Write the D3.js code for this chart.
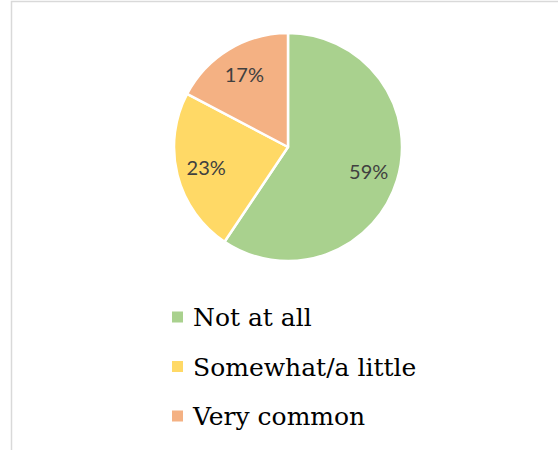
<!DOCTYPE html>
<html>
<head>
<meta charset="utf-8">
<script src="https://cdn.jsdelivr.net/npm/d3@7"></script>
<style>
  body { margin: 0; background: #fff; }
</style>
</head>
<body>
<div id="chart"></div>
<script>
// data
var categories = ["Not at all", "Somewhat/a little", "Very common"];
var values = [59.4, 23.3, 17.3];
var colors = ["#A9D18E", "#FFD966", "#F4B183"];

var width = 558, height = 450;
var cx = 288, cy = 147, radius = 114;

var svg = d3.select("#chart")
    .append("svg")
    .attr("width", width)
    .attr("height", height);

// chart frame (runs off right and bottom edge)
svg.append("rect")
    .attr("x", 11.5)
    .attr("y", 1.5)
    .attr("width", 600)
    .attr("height", 500)
    .attr("fill", "none")
    .attr("stroke", "#d9d9d9")
    .attr("stroke-width", 1.5);

var data = categories.map(function(c, i) {
    return { name: c, value: values[i], color: colors[i] };
});

var pie = d3.pie()
    .sort(null)
    .value(function(d) { return d.value; });

var arc = d3.arc().innerRadius(0).outerRadius(radius);
var labelArc = d3.arc().innerRadius(radius * 0.74).outerRadius(radius * 0.74);

var g = svg.append("g")
    .attr("transform", "translate(" + cx + "," + cy + ")");

var slices = g.selectAll("g.slice")
    .data(pie(data))
    .enter()
    .append("g")
    .attr("class", "slice");

slices.append("path")
    .attr("d", arc)
    .attr("fill", function(d) { return d.data.color; })
    .attr("stroke", "#fff")
    .attr("stroke-width", 2.5)
    .attr("stroke-linejoin", "round");

slices.append("text")
    .attr("transform", function(d) { return "translate(" + labelArc.centroid(d) + ")"; })
    .attr("text-anchor", "middle")
    .attr("dy", "0.36em")
    .attr("font-family", "Lato, 'Open Sans', sans-serif")
    .attr("font-size", 20)
    .attr("fill", "#404040")
    .text(function(d) { return Math.round(d.data.value) + "%"; });

// legend
var legendY = d3.scalePoint()
    .domain(categories)
    .range([317, 416]);

var legend = svg.append("g")
    .selectAll("g")
    .data(data)
    .enter()
    .append("g")
    .attr("transform", function(d) { return "translate(172," + legendY(d.name) + ")"; });

legend.append("rect")
    .attr("x", 0)
    .attr("y", -5.5)
    .attr("width", 11)
    .attr("height", 11)
    .attr("fill", function(d) { return d.color; });

legend.append("text")
    .attr("x", 21)
    .attr("y", 9)
    .attr("font-family", "'DejaVu Serif', serif")
    .attr("font-size", 25)
    .attr("fill", "#000")
    .text(function(d) { return d.name; });
</script>
</body>
</html>
